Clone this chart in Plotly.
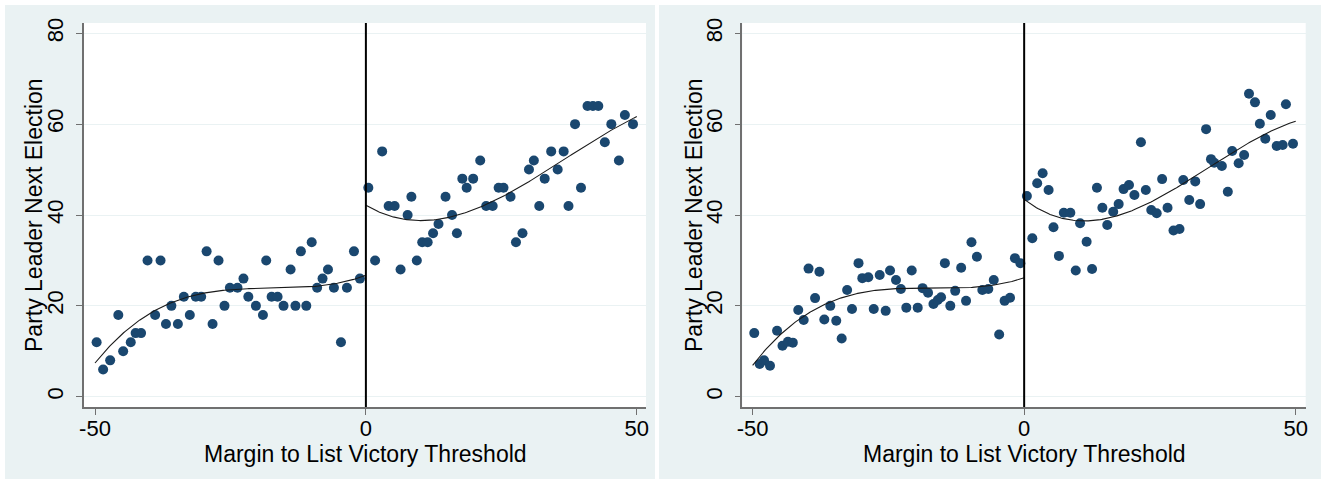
import numpy as np
import plotly.graph_objects as go

# ---------------- data ----------------
# Left panel
left_below_x = [-49.7, -48.5, -47.2, -45.7, -44.8, -43.4, -42.5, -41.5, -40.3, -38.9,
                -37.9, -36.9, -35.9, -34.7, -33.6, -32.5, -31.4, -30.4, -29.4, -28.3,
                -27.2, -26.1, -25.1, -23.7, -22.6, -21.7, -20.3, -19.0, -18.4, -17.4,
                -16.3, -15.2, -13.9, -13.0, -12.0, -11.0, -10.0, -9.0, -8.0, -7.0,
                -5.9, -4.6, -3.5, -2.2, -1.1]
left_below_y = [12, 6, 8, 18, 10, 12, 14, 14, 30, 18,
                30, 16, 20, 16, 22, 18, 22, 22, 32, 16,
                30, 20, 24, 24, 26, 22, 20, 18, 30, 22,
                22, 20, 28, 20, 32, 20, 34, 24, 26, 28,
                24, 12, 24, 32, 26]
left_above_x = [0.45, 1.7, 3.0, 4.2, 5.3, 6.4, 7.7, 8.4, 9.4, 10.4,
                11.4, 12.4, 13.4, 14.7, 15.9, 16.8, 17.8, 18.6, 19.8, 21.1,
                22.2, 23.4, 24.5, 25.4, 26.7, 27.7, 28.9, 30.1, 31.0, 32.0,
                33.0, 34.2, 35.4, 36.5, 37.4, 38.6, 39.7, 40.9, 41.9, 42.9,
                44.1, 45.3, 46.7, 47.8, 49.3]
left_above_y = [46, 30, 54, 42, 42, 28, 40, 44, 30, 34,
                34, 36, 38, 44, 40, 36, 48, 46, 48, 52,
                42, 42, 46, 46, 44, 34, 36, 50, 52, 42,
                48, 54, 50, 54, 42, 60, 46, 64, 64, 64,
                56, 60, 52, 62, 60]

# Right panel
right_below_x = [-49.7, -48.7, -47.9, -46.8, -45.5, -44.5, -43.5, -42.6, -41.6, -40.6,
                 -39.7, -38.5, -37.7, -36.8, -35.7, -34.6, -33.6, -32.6, -31.7, -30.5,
                 -29.8, -28.7, -27.7, -26.6, -25.5, -24.7, -23.6, -22.7, -21.7, -20.7,
                 -19.6, -18.7, -17.7, -16.7, -15.9, -15.3, -14.6, -13.6, -12.7, -11.6,
                 -10.7, -9.7, -8.7, -7.7, -6.6, -5.6, -4.6, -3.6, -2.6, -1.7, -0.7]
right_below_y = [14.0, 7.2, 8.0, 6.8, 14.5, 11.2, 12.1, 11.9, 19.1, 16.9,
                 28.2, 21.7, 27.5, 17.0, 20.0, 16.7, 12.8, 23.5, 19.3, 29.4,
                 26.1, 26.3, 19.3, 26.8, 18.9, 27.8, 25.7, 23.7, 19.6, 27.8,
                 19.6, 23.9, 22.9, 20.4, 21.3, 21.9, 29.4, 20.0, 23.3, 28.4,
                 21.1, 34.0, 30.8, 23.5, 23.7, 25.7, 13.7, 21.1, 21.8, 30.5, 29.4]
right_above_x = [0.5, 1.5, 2.4, 3.4, 4.5, 5.4, 6.4, 7.3, 8.5, 9.5,
                 10.3, 11.5, 12.5, 13.4, 14.4, 15.3, 16.4, 17.4, 18.3, 19.3,
                 20.3, 21.5, 22.4, 23.4, 24.4, 25.4, 26.4, 27.5, 28.6, 29.3,
                 30.4, 31.5, 32.4, 33.5, 34.4, 35.0, 36.4, 37.5, 38.3, 39.5,
                 40.5, 41.4, 42.5, 43.4, 44.4, 45.4, 46.5, 47.6, 48.2, 49.5]
right_above_y = [44.2, 34.9, 47.0, 49.2, 45.5, 37.3, 31.0, 40.5, 40.5, 27.8,
                 38.2, 34.1, 28.1, 46.0, 41.6, 37.8, 40.7, 42.4, 45.7, 46.6,
                 44.4, 56.0, 45.5, 41.1, 40.4, 47.9, 41.6, 36.6, 36.9, 47.7,
                 43.3, 47.4, 42.4, 58.9, 52.3, 51.5, 50.8, 45.1, 54.1, 51.4,
                 53.2, 66.7, 64.8, 60.1, 56.8, 62.0, 55.2, 55.4, 64.4, 55.7]

x_tick_vals = [-50, 0, 50]
x_tick_text = ["-50", "0", "50"]
y_tick_vals = [0, 20, 40, 60, 80]
y_tick_text = ["0", "20", "40", "60", "80"]
x_title = "Margin to List Victory Threshold"
y_title = "Party Leader Next Election"
fit_degree = 3

# ---------------- styling ----------------
W, H = 1326, 479
MARKER = "#1a476f"
PANEL_BG = "#eaf2f3"
AXIS = "#707070"
GRID = "#eaf2f3"
FONT = "Liberation Sans, Arial, sans-serif"

def px_x(p):
    return p / W

def px_y(p):
    return (H - p) / H

panels = [
    dict(bx=left_below_x, by=left_below_y, ax=left_above_x, ay=left_above_y,
         dom=(84, 646), xr=(-52.03, 51.7), bg=(5, 655), title_x=34),
    dict(bx=right_below_x, by=right_below_y, ax=right_above_x, ay=right_above_y,
         dom=(742.3, 1305.7), xr=(-51.9, 51.84), bg=(659, 1321), title_x=694),
]

fig = go.Figure()
shapes, annotations = [], []
ydom = [px_y(407), px_y(23)]

for i, p in enumerate(panels):
    xa = "x" if i == 0 else f"x{i+1}"
    ya = "y" if i == 0 else f"y{i+1}"
    # scatter points
    fig.add_trace(go.Scatter(
        x=p["bx"] + p["ax"], y=p["by"] + p["ay"], mode="markers",
        marker=dict(color=MARKER, size=10, line=dict(width=0)),
        xaxis=xa, yaxis=ya, showlegend=False, hoverinfo="skip"))
    # polynomial fits on each side of the threshold
    for sx, sy, lo, hi in [(p["bx"], p["by"], -50, 0), (p["ax"], p["ay"], 0, 50)]:
        coef = np.polyfit(sx, sy, fit_degree)
        gx = np.linspace(lo, hi, 200)
        fig.add_trace(go.Scatter(
            x=gx, y=np.polyval(coef, gx), mode="lines",
            line=dict(color="#1a1a1a", width=1.1),
            xaxis=xa, yaxis=ya, showlegend=False, hoverinfo="skip"))

    axis_common = dict(showline=True, linecolor=AXIS, linewidth=1.5,
                       ticks="outside", ticklen=6, tickwidth=1.3, tickcolor=AXIS,
                       tickfont=dict(family=FONT, size=22, color="#000000"),
                       zeroline=False, fixedrange=True, automargin=False)
    fig.update_layout({
        ("xaxis" if i == 0 else f"xaxis{i+1}"): dict(
            domain=[px_x(p["dom"][0]), px_x(p["dom"][1])], range=list(p["xr"]),
            anchor=ya, tickvals=x_tick_vals, ticktext=x_tick_text,
            ticklabelstandoff=-5,
            showgrid=False, **axis_common),
        ("yaxis" if i == 0 else f"yaxis{i+1}"): dict(
            domain=ydom, range=[-2.27, 82.27], anchor=xa,
            tickvals=y_tick_vals, ticktext=y_tick_text, tickangle=-90,
            ticklabelstandoff=4,
            showgrid=True, gridcolor=GRID, gridwidth=1, **axis_common),
    })
    # panel background
    shapes.append(dict(type="rect", xref="paper", yref="paper",
                       x0=px_x(p["bg"][0]), x1=px_x(p["bg"][1]),
                       y0=px_y(479), y1=px_y(5), fillcolor=PANEL_BG,
                       line=dict(width=0), layer="below"))
    # white plotting area
    shapes.append(dict(type="rect", xref="paper", yref="paper",
                       x0=px_x(p["dom"][0]), x1=px_x(p["dom"][1]),
                       y0=ydom[0], y1=ydom[1], fillcolor="white",
                       line=dict(width=0), layer="below"))
    # threshold line
    shapes.append(dict(type="line", xref=xa, yref=f"{ya} domain",
                       x0=0, x1=0, y0=0, y1=1, line=dict(color="#000000", width=2)))
    # axis titles
    annotations.append(dict(text=x_title, xref="paper", yref="paper",
                            x=px_x((p["dom"][0] + p["dom"][1]) / 2), y=px_y(454),
                            xanchor="center", yanchor="middle", showarrow=False,
                            font=dict(family=FONT, size=23, color="#000000")))
    annotations.append(dict(text=y_title, xref="paper", yref="paper",
                            x=px_x(p["title_x"]), y=px_y(215), textangle=-90,
                            xanchor="center", yanchor="middle", showarrow=False,
                            font=dict(family=FONT, size=23, color="#000000")))

fig.update_layout(width=W, height=H, margin=dict(l=0, r=0, t=0, b=0, autoexpand=False),
                  paper_bgcolor="white", plot_bgcolor="rgba(0,0,0,0)",
                  shapes=shapes, annotations=annotations)

fig.write_html("out.html",
               config={"displayModeBar": False},
               post_script="document.body.style.margin='0';"
                           "document.body.style.overflow='hidden';")
